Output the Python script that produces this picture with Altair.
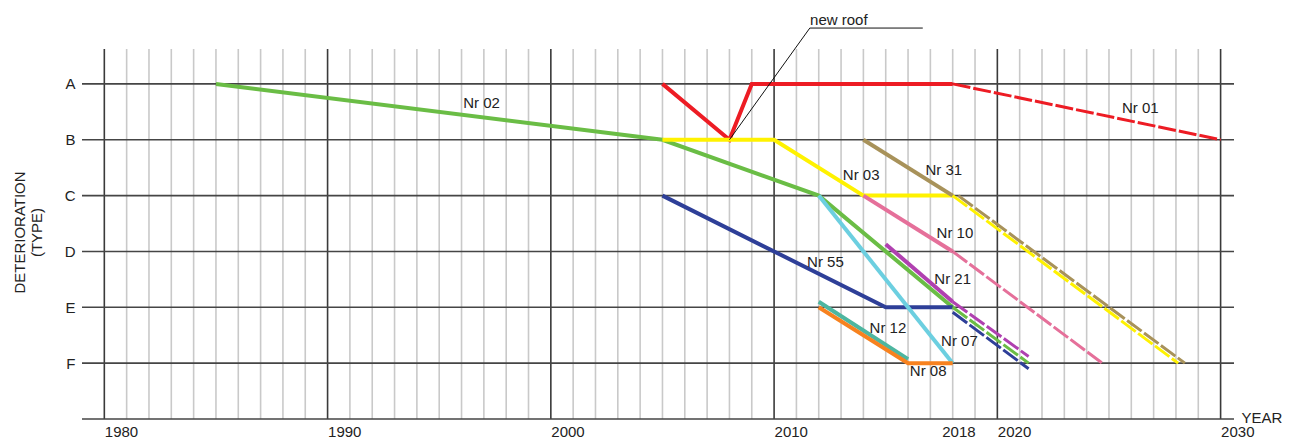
import altair as alt
import pandas as pd

# ---------------- data ----------------
grid_years = list(range(1980, 2031))
decade_years = [1980, 1990, 2000, 2010, 2020, 2030]
label_years = [1980, 1990, 2000, 2010, 2018, 2020, 2030]
row_letters = ["A", "B", "C", "D", "E", "F"]
row_lines = [0, 1, 2, 3, 4, 5, 6]

X_MIN, X_MAX = 1979, 2030.6
Y_TOP, Y_BOTTOM = -0.625, 6

# series (year, deterioration row index: A=0 ... F=5)
nr01_years = [2005, 2008, 2009, 2018]
nr01_rows = [0, 1, 0, 0]
nr01_fc_years = [2018, 2030]
nr01_fc_rows = [0, 1]

nr02_years = [1985, 2005, 2012, 2018]
nr02_rows = [0, 1, 2, 4]
nr02_fc_years = [2018, 2021.4]
nr02_fc_rows = [4, 5]

nr03_years = [2005, 2010, 2014, 2018]
nr03_rows = [1, 1, 2, 2]
nr03_fc_years = [2018, 2028.1]
nr03_fc_rows = [2, 5]

nr31_years = [2014, 2018]
nr31_rows = [1, 2]
nr31_fc_years = [2018.25, 2028.4]
nr31_fc_rows = [2, 5]

nr10_years = [2014, 2018]
nr10_rows = [2, 3]
nr10_fc_years = [2018, 2024.7]
nr10_fc_rows = [3, 5]

nr55_years = [2005, 2015, 2018]
nr55_rows = [2, 4, 4]
nr55_fc_years = [2018, 2021.4]
nr55_fc_rows = [4.09, 5.1]

nr21_years = [2015, 2018]
nr21_rows = [2.87, 3.9]
nr21_fc_years = [2018, 2021.4]
nr21_fc_rows = [3.9, 4.88]

nr07_years = [2012, 2018]
nr07_rows = [2, 5]

nr12_years = [2012, 2016]
nr12_rows = [3.9, 4.93]

nr08_years = [2012, 2016, 2018]
nr08_rows = [4, 5, 5]

# label names and anchor (year, row)
label_names = ["Nr 01", "Nr 02", "Nr 03", "Nr 31", "Nr 10", "Nr 55", "Nr 21", "Nr 12", "Nr 07", "Nr 08"]
label_x = [2026.4, 1996.9, 2013.9, 2017.6, 2018.1, 2012.3, 2018.0, 2015.1, 2018.3, 2016.9]
label_y = [0.43, 0.34, 1.63, 1.54, 2.67, 3.19, 3.49, 4.37, 4.60, 5.14]

note_text = "new roof"
note_years = [2008, 2011.6, 2016.66]
note_rows = [1, -1.0, -1.0]
note_label_year = 2012.9
note_label_row = -1.14

# ---------------- styles ----------------
RED = "#ed1c24"
GREEN = "#6abd45"
YELLOW = "#fff200"
BROWN = "#a8925a"
PINK = "#e5709a"
BLUE = "#2e3f98"
PURPLE = "#b040b0"
CYAN = "#6ccfe0"
TEAL = "#4db6a0"
ORANGE = "#f7821f"

solid_series = [
    ("02", GREEN, nr02_years, nr02_rows),
    ("01", RED, nr01_years, nr01_rows),
    ("03", YELLOW, nr03_years, nr03_rows),
    ("31", BROWN, nr31_years, nr31_rows),
    ("10", PINK, nr10_years, nr10_rows),
    ("55", BLUE, nr55_years, nr55_rows),
    ("21", PURPLE, nr21_years, nr21_rows),
    ("07", CYAN, nr07_years, nr07_rows),
    ("12", TEAL, nr12_years, nr12_rows),
    ("08", ORANGE, nr08_years, nr08_rows),
]
dashed_series = [
    ("01", RED, nr01_fc_years, nr01_fc_rows),
    ("31", BROWN, nr31_fc_years, nr31_fc_rows),
    ("03", YELLOW, nr03_fc_years, nr03_fc_rows),
    ("10", PINK, nr10_fc_years, nr10_fc_rows),
    ("21", PURPLE, nr21_fc_years, nr21_fc_rows),
    ("02", GREEN, nr02_fc_years, nr02_fc_rows),
    ("55", BLUE, nr55_fc_years, nr55_fc_rows),
]


def to_frame(series):
    recs = []
    for k, (name, col, ys, rs) in enumerate(series):
        for i, (yy, rr) in enumerate(zip(ys, rs)):
            recs.append({"seg": f"{k:02d}_{name}", "color": col, "i": i, "year": yy, "row": rr})
    return pd.DataFrame(recs)


solid_df = to_frame(solid_series)
dashed_df = to_frame(dashed_series)

vgrid_df = pd.DataFrame({
    "year": grid_years,
    "top": [Y_TOP] * len(grid_years),
    "bottom": [Y_BOTTOM] * len(grid_years),
    "color": ["#3a3a3a" if y in decade_years else "#c9c9c9" for y in grid_years],
})
hgrid_df = pd.DataFrame({
    "row": row_lines,
    "x1": [X_MIN] * len(row_lines),
    "x2": [X_MAX] * len(row_lines),
})
labels_df = pd.DataFrame({"text": label_names, "year": label_x, "row": label_y})
note_df = pd.DataFrame({"i": list(range(len(note_years))), "year": note_years, "row": note_rows})
note_label_df = pd.DataFrame({"text": [note_text], "year": [note_label_year], "row": [note_label_row]})

FONT = "Liberation Sans"
TXT = "#222222"

xs = alt.Scale(domain=[X_MIN, X_MAX], nice=False, zero=False)
ys = alt.Scale(domain=[Y_TOP, Y_BOTTOM], nice=False, zero=False, reverse=True)

letters_expr = "[" + ",".join(f"'{c}'" for c in row_letters) + "][datum.value]"

x_axis = alt.Axis(
    values=label_years, format="d", labelAlign="left", labelBaseline="alphabetic",
    labelPadding=17, labelFontSize=15, labelFont=FONT, labelColor=TXT,
    labelOverlap=False, labelFlush=False, ticks=False, domain=False, grid=False,
    labelOffset={"condition": {"test": "datum.value === 2018", "value": -11}, "value": 0},
    title="YEAR", titleX=1159, titleY=-2, titleAlign="left", titleBaseline="middle",
    titleFontSize=15, titleFont=FONT, titleFontWeight="normal", titleColor=TXT,
)
y_axis = alt.Axis(
    values=[0, 1, 2, 3, 4, 5], labelExpr=letters_expr, labelPadding=7,
    labelFontSize=15, labelFont=FONT, labelColor=TXT, ticks=False, domain=False, grid=False,
    title=["DETERIORATION", "(TYPE)"], titleAngle=270, titleX=-70, titleY=183,
    titleAlign="center", titleBaseline="top", titleFontSize=15, titleFont=FONT,
    titleFontWeight="normal", titleColor=TXT, titleLineHeight=17,
)

vgrid = alt.Chart(vgrid_df).mark_rule(strokeWidth=1.6).encode(
    x=alt.X("year:Q", scale=xs, axis=x_axis),
    y=alt.Y("top:Q", scale=ys, axis=y_axis),
    y2="bottom:Q",
    color=alt.Color("color:N", scale=None),
)

hgrid = alt.Chart(hgrid_df).mark_rule(strokeWidth=1.6, color="#454545").encode(
    x=alt.X("x1:Q", scale=xs),
    x2="x2:Q",
    y=alt.Y("row:Q", scale=ys),
)

solid = alt.Chart(solid_df).mark_line(strokeWidth=4, strokeCap="butt", strokeJoin="miter").encode(
    x=alt.X("year:Q", scale=xs),
    y=alt.Y("row:Q", scale=ys),
    detail="seg:N",
    order="i:Q",
    color=alt.Color("color:N", scale=None),
)

dashed = alt.Chart(dashed_df).mark_line(strokeWidth=3, strokeDash=[18, 3], strokeCap="butt").encode(
    x=alt.X("year:Q", scale=xs),
    y=alt.Y("row:Q", scale=ys),
    detail="seg:N",
    order="i:Q",
    color=alt.Color("color:N", scale=None),
)

texts = alt.Chart(labels_df).mark_text(
    fontSize=15, font=FONT, color=TXT, align="center", baseline="middle"
).encode(
    x=alt.X("year:Q", scale=xs),
    y=alt.Y("row:Q", scale=ys),
    text="text:N",
)

note_line = alt.Chart(note_df).mark_line(strokeWidth=1, color="#111111").encode(
    x=alt.X("year:Q", scale=xs),
    y=alt.Y("row:Q", scale=ys),
    order="i:Q",
)

note_label = alt.Chart(note_label_df).mark_text(
    fontSize=15, font=FONT, color=TXT, align="center", baseline="middle"
).encode(
    x=alt.X("year:Q", scale=xs),
    y=alt.Y("row:Q", scale=ys),
    text="text:N",
)

chart = alt.layer(vgrid, hgrid, solid, dashed, note_line, texts, note_label).properties(
    width=1152,
    height=370,
    padding={"left": 74, "top": 41, "right": 49, "bottom": 21},
    autosize=alt.AutoSizeParams(type="none"),
    background="white",
).configure_view(stroke=None)

chart.save("out.html", embed_options={"renderer": "svg", "actions": False})
